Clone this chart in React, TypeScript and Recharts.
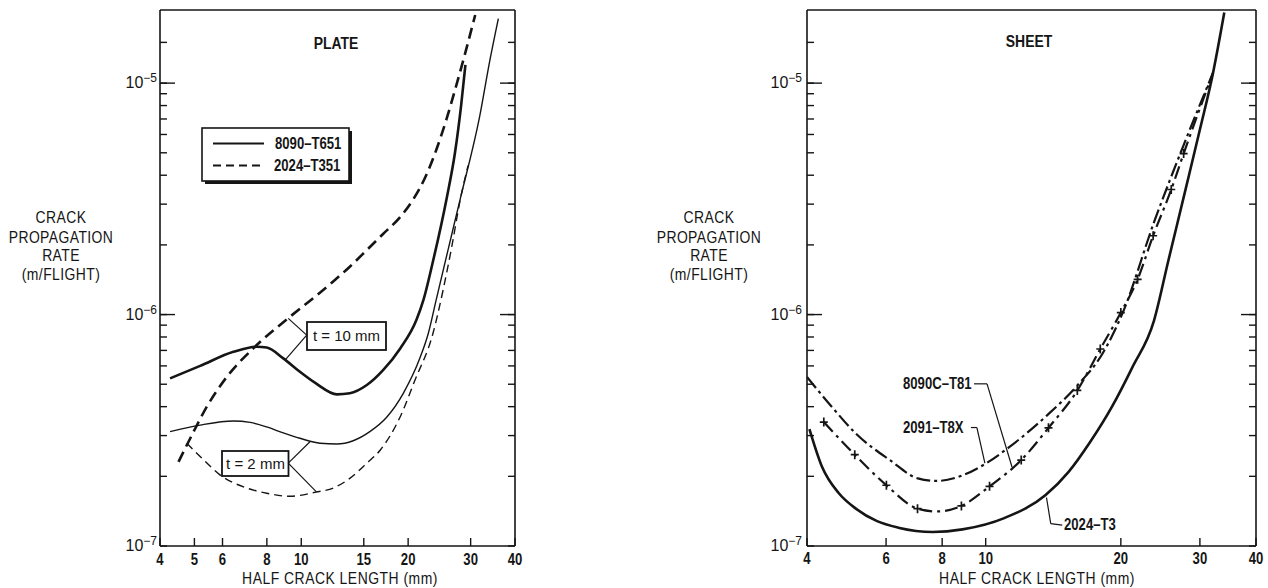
import React from 'react';
import { LineChart, Line, XAxis, YAxis, ReferenceLine } from 'recharts';

const SANS = '"Liberation Sans", Arial, Helvetica, sans-serif';
const INK = '#151515';
const NARROW = 0.82;
const MINOR_X = 8; // inward tick length on x axes
const MINOR_Y = 7; // inward minor tick length on y axes
const MAJOR_Y = 15;

// ---------- axes ----------
const plateXTicks = [4, 5, 6, 8, 10, 15, 20, 30, 40];
const sheetXTicks = [4, 6, 8, 10, 20, 30, 40];
const yTicks = [1e-7, 2e-7, 3e-7, 4e-7, 5e-7, 6e-7, 7e-7, 8e-7, 9e-7, 1e-6, 2e-6, 3e-6, 4e-6, 5e-6, 6e-6, 7e-6, 8e-6, 9e-6, 1e-5, 1.5e-5];
const yMajorValues = [1e-7, 1e-6, 1e-5];
const yMajorExponents = ['\u22127', '\u22126', '\u22125'];
const xDomain = [4, 40];
const yDomain = [1e-7, 2.07e-5];

// ---------- PLATE panel ----------
const plate8090t10X = [4.27, 5.19, 6.44, 7.49, 7.99, 8.9, 9.91, 11.0, 12.6, 13.7, 15.3, 17.0, 19.0, 21.1, 22.1, 23.5, 25.7, 27.1, 28.2, 29.0];
const plate8090t10Y = [5.3e-7, 6.0e-7, 6.9e-7, 7.26e-7, 7.2e-7, 6.47e-7, 5.66e-7, 5.04e-7, 4.52e-7, 4.57e-7, 4.96e-7, 5.75e-7, 7.14e-7, 9.47e-7, 1.16e-6, 1.7e-6, 3.2e-6, 5.0e-6, 8.0e-6, 1.2e-5];

const plate8090t2X = [4.27, 5.19, 6.44, 7.18, 7.99, 8.9, 9.91, 11.3, 12.6, 14.0, 15.6, 17.4, 19.4, 21.6, 22.8, 24.0, 25.9, 28.0, 31.8, 34.0, 35.9];
const plate8090t2Y = [3.12e-7, 3.33e-7, 3.47e-7, 3.42e-7, 3.27e-7, 3.08e-7, 2.92e-7, 2.78e-7, 2.76e-7, 2.85e-7, 3.12e-7, 3.6e-7, 4.58e-7, 6.5e-7, 8.3e-7, 1.16e-6, 1.9e-6, 3.13e-6, 7.16e-6, 1.26e-5, 1.9e-5];

const plate2024t10X = [4.51, 4.97, 5.42, 6.17, 7.33, 9.1, 10.9, 12.3, 13.7, 15.3, 17.0, 19.0, 20.6, 22.3, 24.0, 25.6, 27.1, 28.7, 30.9];
const plate2024t10Y = [2.31e-7, 3.11e-7, 4.0e-7, 5.38e-7, 7.15e-7, 9.53e-7, 1.19e-6, 1.39e-6, 1.61e-6, 1.9e-6, 2.23e-6, 2.64e-6, 3.12e-6, 3.89e-6, 5.14e-6, 6.92e-6, 9.33e-6, 1.28e-5, 1.97e-5];

const plate2024t2X = [4.76, 5.3, 5.9, 7.02, 7.99, 9.29, 11.0, 12.3, 13.7, 15.3, 16.7, 19.0, 20.9, 23.5, 25.1, 26.6, 28.0, 29.5];
const plate2024t2Y = [2.78e-7, 2.36e-7, 2.03e-7, 1.78e-7, 1.69e-7, 1.64e-7, 1.71e-7, 1.78e-7, 1.96e-7, 2.28e-7, 2.6e-7, 3.62e-7, 5.2e-7, 8.3e-7, 1.28e-6, 2.0e-6, 3.1e-6, 4.4e-6];

// leader lines (data coordinates)
const plateLeaders = [
  [[10.36, 8.15e-7], [9.19, 9.63e-7]],
  [[10.36, 8.15e-7], [9.0, 6.36e-7]],
  [[9.19, 2.28e-7], [10.58, 2.82e-7]],
  [[9.19, 2.28e-7], [11.05, 1.71e-7]],
];

// ---------- SHEET panel ----------
const sheet2024X = [4.05, 4.32, 4.71, 5.14, 5.73, 6.39, 7.62, 8.88, 11.0, 13.6, 15.3, 17.1, 19.1, 21.2, 23.7, 25.5, 27.9, 30.0, 32.1, 34.0];
const sheet2024Y = [3.2e-7, 2.2e-7, 1.69e-7, 1.45e-7, 1.28e-7, 1.2e-7, 1.15e-7, 1.18e-7, 1.32e-7, 1.66e-7, 2.09e-7, 2.82e-7, 3.99e-7, 5.9e-7, 9.4e-7, 1.7e-6, 3.5e-6, 6.3e-6, 1.11e-5, 2.02e-5];

const sheet2091X = [4.0, 4.51, 5.14, 6.12, 7.06, 7.79, 8.88, 10.0, 11.3, 13.7, 16.0, 18.2, 20.2, 23.7, 27.6, 32.1];
const sheet2091Y = [5.37e-7, 4.06e-7, 3.06e-7, 2.35e-7, 1.96e-7, 1.91e-7, 2.02e-7, 2.27e-7, 2.68e-7, 3.67e-7, 4.94e-7, 6.77e-7, 1.02e-6, 2.5e-6, 5.4e-6, 1.11e-5];

const sheet8090X = [4.36, 5.11, 6.01, 7.05, 7.78, 8.83, 10.2, 12.0, 13.8, 16.0, 18.0, 20.0, 21.8, 23.6, 25.9, 27.6, 32.1];
const sheet8090Y = [3.43e-7, 2.48e-7, 1.83e-7, 1.45e-7, 1.41e-7, 1.49e-7, 1.81e-7, 2.35e-7, 3.24e-7, 4.7e-7, 7.1e-7, 1.02e-6, 1.42e-6, 2.19e-6, 3.47e-6, 4.96e-6, 1.11e-5];
const sheet8090MarkX = [4.36, 5.11, 6.01, 7.05, 8.83, 10.2, 12.0, 13.8, 16.0, 18.0, 20.0, 21.8, 23.6, 25.9, 27.6];
const sheet8090MarkY = [3.43e-7, 2.48e-7, 1.83e-7, 1.45e-7, 1.49e-7, 1.81e-7, 2.35e-7, 3.24e-7, 4.7e-7, 7.1e-7, 1.02e-6, 1.42e-6, 2.19e-6, 3.47e-6, 4.96e-6];

const sheetLeaders = [
  [[9.42, 5.02e-7], [10.07, 5.02e-7]],
  [[10.07, 5.02e-7], [11.45, 2.19e-7]],
  [[9.27, 3.25e-7], [9.56, 3.25e-7]],
  [[9.56, 3.25e-7], [9.96, 2.28e-7]],
  [[14.81, 1.23e-7], [13.96, 1.25e-7]],
  [[13.96, 1.25e-7], [13.66, 1.62e-7]],
];

const zip = (xs: number[], ys: number[]) => xs.map((x, i) => ({ x, y: ys[i] }));

// narrow text: Liberation Sans horizontally condensed
const NText = (p: {
  x: number;
  y: number;
  size: number;
  bold?: boolean;
  anchor?: 'start' | 'middle' | 'end';
  spacing?: number;
  children: React.ReactNode;
}) => (
  <text
    transform={`translate(${p.x},${p.y}) scale(${NARROW},1)`}
    textAnchor={p.anchor || 'start'}
    fontFamily={SANS}
    fontSize={p.size}
    fontWeight={p.bold ? 'bold' : 'normal'}
    letterSpacing={p.spacing || 0}
    fill={INK}
  >
    {p.children}
  </text>
);

// ---------- tick renderers ----------
// built-in tick lines are drawn inward (negative tickSize); the custom tick
// receives the inner end of that line, so the axis position is recovered from it.
const makeBottomTick = (baseline: number) => (props: any) => {
  const { x, y, payload } = props;
  const axisY = y + MINOR_X;
  return (
    <NText x={x} y={axisY + baseline} size={16} bold anchor="middle">
      {payload.value}
    </NText>
  );
};

const makeLeftTick = (labelGap: number) => (props: any) => {
  const { x, y, payload } = props;
  const axisX = x - MINOR_Y;
  const idx = yMajorValues.indexOf(payload.value);
  if (idx < 0) return <g />;
  return (
    <g>
      {idx > 0 && <line x1={axisX} x2={axisX + MAJOR_Y} y1={y} y2={y} stroke={INK} strokeWidth={1.4} />}
      <text x={axisX - labelGap} y={y + 5} textAnchor="end" fontFamily={SANS} fontSize={16} fill={INK}>
        10
        <tspan dy={-6} fontSize={12}>
          {yMajorExponents[idx]}
        </tspan>
      </text>
    </g>
  );
};

const rightTick = (props: any) => {
  const { x, y, payload } = props;
  const axisX = x + MINOR_Y;
  const idx = yMajorValues.indexOf(payload.value);
  if (idx <= 0) return <g />;
  return <line x1={axisX} x2={axisX - MAJOR_Y} y1={y} y2={y} stroke={INK} strokeWidth={1.4} />;
};

const axisLine = { stroke: INK, strokeWidth: 1.6 };
const tickLine = { stroke: INK, strokeWidth: 1.4 };

const axes = (xTicks: number[], bottomBaseline: number, leftGap: number) => [
  <XAxis
    key="xb"
    xAxisId={0}
    dataKey="x"
    type="number"
    scale="log"
    domain={xDomain}
    allowDataOverflow
    ticks={xTicks}
    interval={0}
    height={1}
    tickSize={-MINOR_X}
    tickMargin={0}
    tickLine={tickLine}
    axisLine={axisLine}
    tick={makeBottomTick(bottomBaseline)}
  />,
  <XAxis
    key="xt"
    xAxisId="top"
    orientation="top"
    dataKey="x"
    type="number"
    scale="log"
    domain={xDomain}
    allowDataOverflow
    ticks={xTicks}
    interval={0}
    height={1}
    tickSize={-MINOR_X}
    tickMargin={0}
    tickLine={tickLine}
    axisLine={axisLine}
    tick={false}
  />,
  <YAxis
    key="yl"
    yAxisId={0}
    type="number"
    scale="log"
    domain={yDomain}
    allowDataOverflow
    ticks={yTicks}
    interval={0}
    width={1}
    tickSize={-MINOR_Y}
    tickMargin={0}
    tickLine={tickLine}
    axisLine={axisLine}
    tick={makeLeftTick(leftGap)}
  />,
  <YAxis
    key="yr"
    yAxisId="right"
    orientation="right"
    type="number"
    scale="log"
    domain={yDomain}
    allowDataOverflow
    ticks={yTicks}
    interval={0}
    width={1}
    tickSize={-MINOR_Y}
    tickMargin={0}
    tickLine={tickLine}
    axisLine={axisLine}
    tick={rightTick}
  />,
];

const leaderLines = (list: number[][][], prefix: string) =>
  list.map((seg, i) => (
    <ReferenceLine
      key={prefix + i}
      segment={[
        { x: seg[0][0], y: seg[0][1] },
        { x: seg[1][0], y: seg[1][1] },
      ]}
      stroke={INK}
      strokeWidth={1.2}
      ifOverflow="visible"
    />
  ));

const plusDot = (props: any) => {
  const { cx, cy, index } = props;
  if (cx == null || cy == null) return <g key={'p' + index} />;
  return (
    <path
      key={'p' + index}
      d={`M${cx - 4},${cy}H${cx + 4}M${cx},${cy - 4.5}V${cy + 4.5}`}
      stroke={INK}
      strokeWidth={1.7}
      fill="none"
    />
  );
};

const seriesLine = (key: string, pts: { x: number; y: number }[], width: number, dash?: string) => (
  <Line
    key={key}
    data={pts}
    dataKey="y"
    type="monotone"
    stroke={INK}
    strokeWidth={width}
    strokeDasharray={dash}
    dot={false}
    activeDot={false}
    isAnimationActive={false}
    legendType="none"
  />
);

const YLabel = ({ cx }: { cx: number }) => (
  <g>
    <NText x={cx} y={223} size={17} anchor="middle" spacing={0.5}>CRACK</NText>
    <NText x={cx} y={243} size={17} anchor="middle" spacing={0.5}>PROPAGATION</NText>
    <NText x={cx} y={261} size={17} anchor="middle" spacing={0.5}>RATE</NText>
    <NText x={cx} y={280} size={17} anchor="middle" spacing={0.5}>(m/FLIGHT)</NText>
  </g>
);

export default function App() {
  return (
    <div style={{ position: 'absolute', left: 0, top: 0, width: 1268, height: 588, background: '#fff' }}>
      <div style={{ position: 'absolute', left: 0, top: 0 }}>
        <LineChart width={600} height={588} margin={{ top: 9, left: 159, right: 84, bottom: 41 }}>
          {axes(plateXTicks, 19, 3)}
          {seriesLine('p1', zip(plate8090t10X, plate8090t10Y), 2.6)}
          {seriesLine('p2', zip(plate8090t2X, plate8090t2Y), 1.4)}
          {seriesLine('p3', zip(plate2024t10X, plate2024t10Y), 2.6, '11 6')}
          {seriesLine('p4', zip(plate2024t2X, plate2024t2Y), 1.4, '8 5')}
          {leaderLines(plateLeaders, 'pl')}
        </LineChart>
      </div>
      <div style={{ position: 'absolute', left: 634, top: 0 }}>
        <LineChart width={634} height={588} margin={{ top: 9, left: 172, right: 11, bottom: 41 }}>
          {axes(sheetXTicks, 18, 5)}
          {seriesLine('s1', zip(sheet2024X, sheet2024Y), 2.6)}
          {seriesLine('s2', zip(sheet2091X, sheet2091Y), 2.2, '14 4 3 4')}
          {seriesLine('s3', zip(sheet8090X, sheet8090Y), 2.2, '13 5 3 5')}
          <Line
            key="s3m"
            data={zip(sheet8090MarkX, sheet8090MarkY)}
            dataKey="y"
            stroke="none"
            dot={plusDot}
            activeDot={false}
            isAnimationActive={false}
            legendType="none"
          />
          {leaderLines(sheetLeaders, 'sl')}
        </LineChart>
      </div>
      <svg width={1268} height={588} style={{ position: 'absolute', left: 0, top: 0, pointerEvents: 'none' }}>
        {/* PLATE panel texts */}
        <NText x={336} y={49} size={17} bold anchor="middle">PLATE</NText>
        <YLabel cx={61} />
        <NText x={340} y={584} size={17} anchor="middle" spacing={0.6}>HALF CRACK LENGTH (mm)</NText>
        {/* legend */}
        <rect x={205} y={131} width={147} height={53} fill={INK} />
        <rect x={202} y={128} width={147} height={53} fill="#fff" stroke={INK} strokeWidth={1.6} />
        <line x1={213} x2={264} y1={143.5} y2={143.5} stroke={INK} strokeWidth={2} />
        <NText x={275} y={149} size={16} bold>8090–T651</NText>
        <line x1={213} x2={264} y1={165.5} y2={165.5} stroke={INK} strokeWidth={2} strokeDasharray="8 5" />
        <NText x={274} y={171} size={16} bold>2024–T351</NText>
        {/* thickness boxes */}
        <rect x={307} y={322} width={79} height={28} fill="#fff" stroke={INK} strokeWidth={1.8} />
        <text x={346.5} y={341} textAnchor="middle" fontFamily={SANS} fontSize={15} fill={INK}>t = 10 mm</text>
        <rect x={222} y={451} width={66.5} height={25} fill="#fff" stroke={INK} strokeWidth={1.8} />
        <text x={255.5} y={469} textAnchor="middle" fontFamily={SANS} fontSize={15} fill={INK}>t = 2 mm</text>

        {/* SHEET panel texts */}
        <NText x={1029} y={47} size={17} bold anchor="middle">SHEET</NText>
        <YLabel cx={709} />
        <NText x={1037} y={584} size={17} anchor="middle" spacing={0.6}>HALF CRACK LENGTH (mm)</NText>
        <NText x={903} y={389} size={16} bold>8090C–T81</NText>
        <NText x={903} y={433} size={16} bold>2091–T8X</NText>
        <NText x={1064} y={530} size={16} bold>2024–T3</NText>
      </svg>
    </div>
  );
}
